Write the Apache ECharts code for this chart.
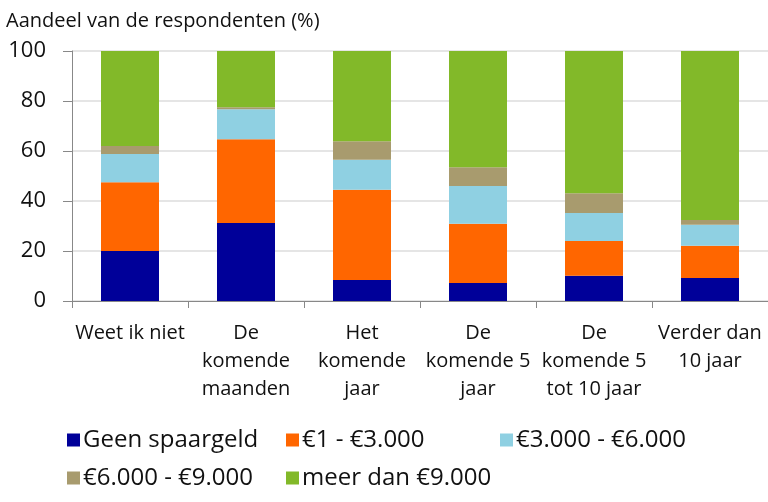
<!DOCTYPE html>
<html><head><meta charset="utf-8">
<script src="https://cdn.jsdelivr.net/npm/echarts@6/dist/echarts.min.js"></script>
<style>html,body{margin:0;padding:0;background:#fff}#c{width:768px;height:502px}</style>
</head><body><div id="c"></div>
<script>
const categories = ["Weet ik niet", "De\nkomende\nmaanden", "Het\nkomende\njaar", "De\nkomende 5\njaar", "De\nkomende 5\ntot 10 jaar", "Verder dan\n10 jaar"];
const seriesNames = ["Geen spaargeld", "€1 - €3.000", "€3.000 - €6.000", "€6.000 - €9.000", "meer dan €9.000"];
const geenSpaargeld = [20, 31.2, 8.4, 7.2, 10.1, 9.2];
const tot3000 = [27.5, 33.5, 36.1, 23.7, 13.9, 12.9];
const tot6000 = [11.3, 12, 12, 15.1, 11.2, 8.4];
const tot9000 = [3.2, 0.8, 7.4, 7.5, 7.9, 1.9];
const meer9000 = [38, 22.5, 36.1, 46.5, 56.9, 67.6];
const yTicks = [0, 20, 40, 60, 80, 100];

const values = [geenSpaargeld, tot3000, tot6000, tot9000, meer9000];
const colors = ["#000099", "#ff6600", "#8fd0e2", "#a89b6e", "#82b929"];
const font = "'Open Sans', 'Noto Sans', sans-serif";
const legendPos = [[62, 423], [281, 423], [495, 423], [62, 461], [281, 461]];

const chart = echarts.init(document.getElementById('c'), null, {renderer: 'canvas'});
chart.setOption({
  animation: false,
  title: {text: "Aandeel van de respondenten (%)", left: 1, top: 6,
    textStyle: {fontFamily: font, fontSize: 20, fontWeight: 'normal', color: '#111'}},
  legend: seriesNames.map((n, i) => ({
    data: [n], left: legendPos[i][0], top: legendPos[i][1], itemWidth: 13, itemHeight: 13, itemGap: 6,
    icon: 'rect', selectedMode: false,
    textStyle: {fontFamily: font, fontSize: 24, color: '#111', padding: [0, 0, 0, -2]}
  })),
  grid: {left: 72, right: 0, top: 51, bottom: 201, containLabel: false},
  xAxis: {
    type: 'category', data: categories,
    axisLine: {lineStyle: {color: '#888', width: 1}},
    axisTick: {show: true, length: 7, lineStyle: {color: '#888'}},
    axisLabel: {fontFamily: font, fontSize: 20, color: '#111', lineHeight: 28, margin: 18, interval: 0}
  },
  yAxis: {
    type: 'value', min: yTicks[0], max: yTicks[yTicks.length - 1], interval: 20,
    axisLine: {show: true, lineStyle: {color: '#888'}},
    axisTick: {show: true, length: 9, lineStyle: {color: '#888'}},
    axisLabel: {fontFamily: font, fontSize: 22, color: '#111', margin: 26},
    splitLine: {lineStyle: {color: '#dcdcdc', width: 1.5}}
  },
  series: seriesNames.map((n, i) => ({
    name: n, type: 'bar', stack: 'total', data: values[i],
    barWidth: '50%', itemStyle: {color: colors[i]}
  }))
});
</script></body></html>
